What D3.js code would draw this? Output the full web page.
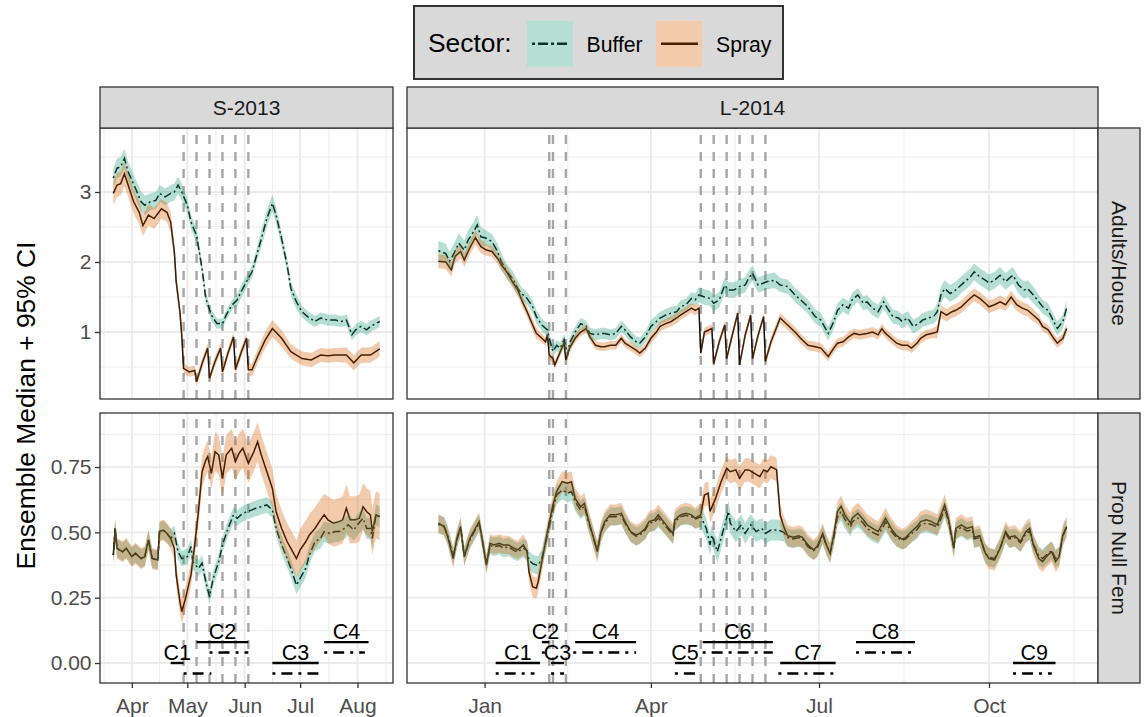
<!DOCTYPE html>
<html>
<head>
<meta charset="utf-8">
<script src="https://cdn.jsdelivr.net/npm/d3@7"></script>
<style>
  body { margin: 0; background: #fff; }
  svg text { font-family: "Liberation Sans", Arial, Helvetica, sans-serif; }
</style>
</head>
<body>
<svg id="chart" width="1145" height="717"></svg>
<script>
// ---- data: days counted from Jan 1 of the season year (negative = previous Dec) ----

// S-2013, Adults/House
const s13AdultsBuffer = [[80,3.20],[82,3.34],[84,3.36],[86,3.48],[88,3.29],[92,3.05],[95,2.86],[97,2.81],[100,2.86],[103,2.88],[105,2.98],[108,2.93],[111,2.98],[113,3.00],[115,3.10],[117,3.00],[120,2.81],[122,2.57],[125,2.38],[128,1.90],[130,1.48],[133,1.24],[136,1.12],[139,1.12],[141,1.24],[144,1.38],[147,1.46],[149,1.57],[152,1.72],[155,1.86],[157,2.05],[160,2.33],[163,2.62],[166,2.84],[168,2.67],[171,2.33],[174,1.95],[176,1.62],[179,1.43],[182,1.29],[185,1.22],[189,1.15],[192,1.20],[196,1.17],[200,1.17],[203,1.15],[206,1.17],[209,0.96],[211,1.03],[214,1.08],[217,1.03],[219,1.08],[224,1.15]];
const s13AdultsSpray = [[80,2.98],[82,3.10],[84,3.12],[86,3.26],[88,3.10],[91,2.86],[94,2.71],[96,2.52],[99,2.67],[102,2.62],[104,2.69],[106,2.76],[109,2.71],[111,2.57],[113,2.14],[114,1.72],[116,1.29],[117,0.95],[118,0.48],[121,0.43],[124,0.45],[125,0.29],[128,0.55],[131,0.77],[132,0.34],[135,0.58],[138,0.77],[139,0.43],[142,0.70],[145,0.93],[146,0.46],[149,0.70],[152,0.91],[153,0.46],[155,0.46],[158,0.65],[162,0.88],[166,1.05],[171,0.91],[176,0.72],[182,0.62],[187,0.60],[192,0.67],[196,0.66],[200,0.67],[206,0.67],[210,0.56],[214,0.67],[219,0.67],[224,0.76]];
// CI half-width by period: [from day, half-width]
const s13AdultsBufferCI = [[80,0.14],[100,0.12],[118,0.10],[128,0.08],[135,0.07],[145,0.09],[158,0.12],[170,0.10],[180,0.08]];
const s13AdultsSprayCI = [[80,0.17],[96,0.15],[106,0.14],[113,0.11],[118,0.07],[155,0.10],[162,0.12],[176,0.10],[206,0.11]];

// S-2013, Prop Null Fem
const s13NullBuffer = [[80,0.413],[81,0.515],[82,0.439],[85,0.426],[87,0.439],[90,0.407],[92,0.42],[95,0.40],[97,0.407],[99,0.471],[101,0.40],[104,0.394],[105,0.503],[107,0.509],[109,0.496],[111,0.477],[113,0.496],[115,0.426],[117,0.40],[120,0.407],[122,0.446],[123,0.388],[126,0.362],[128,0.382],[130,0.311],[132,0.254],[134,0.324],[137,0.388],[139,0.452],[142,0.515],[145,0.567],[147,0.554],[149,0.567],[152,0.579],[155,0.586],[157,0.592],[160,0.598],[163,0.605],[166,0.586],[168,0.515],[171,0.452],[174,0.40],[176,0.362],[179,0.298],[181,0.324],[184,0.362],[186,0.413],[189,0.464],[192,0.477],[194,0.503],[197,0.496],[200,0.503],[202,0.503],[205,0.515],[207,0.529],[210,0.509],[212,0.529],[215,0.554],[217,0.515],[219,0.515],[220,0.477],[222,0.567],[224,0.56]];
const s13NullSpray = [[80,0.413],[81,0.515],[82,0.439],[85,0.426],[87,0.439],[90,0.407],[92,0.42],[95,0.40],[97,0.407],[99,0.471],[101,0.40],[104,0.394],[105,0.503],[107,0.509],[109,0.496],[111,0.477],[113,0.439],[114,0.337],[116,0.235],[117,0.197],[119,0.247],[122,0.337],[124,0.452],[126,0.579],[128,0.732],[130,0.777],[131,0.79],[133,0.726],[135,0.809],[137,0.796],[139,0.707],[141,0.796],[144,0.822],[146,0.771],[148,0.803],[150,0.822],[153,0.764],[156,0.809],[158,0.847],[160,0.796],[163,0.732],[166,0.668],[168,0.579],[171,0.515],[174,0.464],[176,0.439],[179,0.40],[181,0.433],[184,0.464],[186,0.49],[189,0.515],[192,0.548],[194,0.567],[196,0.548],[199,0.535],[202,0.541],[204,0.548],[206,0.592],[208,0.548],[211,0.548],[213,0.554],[215,0.598],[217,0.579],[219,0.567],[220,0.503],[222,0.567],[224,0.56]];
const s13NullBufferCI = [[80,0.035],[112,0.03],[170,0.035],[190,0.04]];
const s13NullSprayCI = [[80,0.04],[112,0.045],[125,0.06],[135,0.075],[168,0.07],[180,0.08],[195,0.09]];

// L-2014, Adults/House
const l14AdultsBuffer = [[-25,2.16],[-21,2.12],[-19,2.01],[-17,2.10],[-14,2.27],[-11,2.17],[-9,2.31],[-6,2.43],[-4,2.53],[-2,2.36],[1,2.34],[4,2.29],[7,2.15],[9,2.01],[12,1.86],[15,1.77],[18,1.62],[20,1.55],[23,1.48],[26,1.36],[28,1.22],[31,1.10],[34,1.03],[35,0.91],[37,0.72],[39,0.81],[41,0.77],[43,0.89],[45,0.67],[46,0.84],[49,1.00],[52,1.12],[55,1.08],[57,0.98],[60,0.96],[63,0.98],[65,0.98],[68,0.96],[71,0.98],[74,1.08],[76,1.03],[79,0.93],[82,0.86],[84,0.84],[87,0.93],[90,1.08],[93,1.15],[95,1.20],[98,1.24],[101,1.27],[104,1.29],[106,1.36],[109,1.39],[112,1.48],[114,1.46],[116,1.53],[119,1.50],[122,1.48],[124,1.41],[127,1.46],[130,1.67],[132,1.60],[135,1.60],[138,1.65],[141,1.67],[143,1.77],[145,1.84],[148,1.67],[151,1.70],[153,1.72],[157,1.74],[160,1.67],[164,1.65],[168,1.53],[171,1.46],[175,1.36],[179,1.22],[182,1.17],[186,0.98],[189,1.15],[191,1.31],[194,1.39],[197,1.34],[199,1.46],[202,1.53],[205,1.41],[207,1.43],[210,1.34],[213,1.29],[216,1.43],[218,1.34],[221,1.22],[224,1.20],[226,1.15],[229,1.20],[232,1.08],[235,1.12],[237,1.17],[240,1.20],[243,1.22],[245,1.29],[247,1.53],[249,1.62],[252,1.55],[255,1.60],[257,1.65],[260,1.72],[263,1.79],[265,1.86],[268,1.79],[271,1.74],[273,1.70],[276,1.74],[279,1.81],[282,1.72],[284,1.77],[286,1.81],[289,1.67],[292,1.60],[294,1.62],[297,1.53],[300,1.43],[302,1.36],[305,1.31],[308,1.15],[310,1.05],[313,1.15],[315,1.34]];
const l14AdultsSpray = [[-25,2.01],[-21,2.00],[-18,1.89],[-16,2.08],[-13,2.15],[-11,2.03],[-8,2.20],[-5,2.35],[-2,2.22],[1,2.17],[4,2.15],[7,2.05],[9,1.96],[12,1.86],[15,1.72],[18,1.60],[20,1.46],[23,1.29],[26,1.10],[28,0.98],[31,0.91],[33,0.86],[34,0.96],[35,0.67],[37,0.62],[38,0.53],[41,0.72],[43,0.84],[44,0.60],[46,0.77],[49,0.91],[52,1.00],[55,1.05],[57,0.93],[60,0.81],[63,0.79],[65,0.79],[68,0.81],[71,0.81],[74,0.91],[76,0.84],[79,0.79],[82,0.74],[84,0.70],[87,0.77],[90,0.91],[93,1.00],[95,1.08],[98,1.12],[101,1.15],[104,1.20],[106,1.24],[109,1.29],[112,1.34],[114,1.31],[116,1.34],[117,0.70],[119,1.00],[123,1.05],[124,0.55],[127,0.86],[130,1.10],[131,0.62],[134,0.95],[137,1.27],[138,0.53],[141,0.95],[144,1.24],[145,0.62],[148,0.95],[151,1.22],[152,0.58],[155,0.86],[160,1.20],[164,1.10],[168,1.00],[171,0.91],[175,0.81],[179,0.79],[182,0.77],[186,0.65],[189,0.77],[191,0.84],[194,0.86],[197,0.93],[200,0.98],[203,0.96],[207,0.98],[210,1.00],[213,0.96],[215,1.05],[217,0.98],[220,0.91],[223,0.84],[226,0.81],[229,0.81],[231,0.77],[234,0.84],[236,0.91],[239,0.96],[242,0.98],[245,1.00],[247,1.29],[250,1.24],[253,1.29],[255,1.31],[258,1.36],[262,1.46],[265,1.53],[268,1.48],[271,1.41],[273,1.36],[276,1.39],[279,1.43],[282,1.39],[285,1.50],[288,1.39],[291,1.34],[294,1.31],[297,1.24],[300,1.17],[302,1.08],[305,1.03],[308,0.91],[310,0.84],[313,0.91],[315,1.05]];
const l14AdultsBufferCI = [[-25,0.14],[0,0.11],[20,0.09],[35,0.08],[90,0.09],[115,0.11],[160,0.10],[245,0.12],[300,0.10]];
const l14AdultsSprayCI = [[-25,0.10],[0,0.08],[30,0.06],[90,0.07],[117,0.06],[155,0.07],[245,0.09],[300,0.07]];

// L-2014, Prop Null Fem
const l14NullBuffer = [[-25,0.53],[-22,0.525],[-20,0.49],[-17,0.41],[-15,0.47],[-13,0.52],[-11,0.41],[-8,0.47],[-5,0.51],[-3,0.535],[-2,0.50],[1,0.38],[3,0.45],[5,0.445],[8,0.45],[10,0.44],[13,0.445],[16,0.43],[18,0.425],[21,0.44],[23,0.43],[24,0.394],[26,0.38],[28,0.375],[29,0.375],[31,0.40],[34,0.49],[37,0.59],[39,0.643],[42,0.662],[45,0.65],[47,0.656],[49,0.618],[52,0.585],[54,0.60],[56,0.545],[58,0.50],[61,0.43],[63,0.50],[65,0.535],[68,0.56],[71,0.56],[74,0.565],[76,0.535],[79,0.50],[82,0.485],[84,0.49],[87,0.51],[89,0.535],[92,0.54],[94,0.555],[96,0.54],[99,0.515],[102,0.49],[103,0.54],[106,0.56],[109,0.565],[112,0.56],[114,0.55],[117,0.56],[120,0.515],[122,0.452],[123,0.49],[126,0.426],[129,0.503],[132,0.58],[133,0.535],[136,0.503],[139,0.529],[141,0.496],[144,0.529],[147,0.503],[150,0.515],[152,0.496],[155,0.509],[159,0.509],[162,0.50],[164,0.48],[167,0.475],[170,0.48],[172,0.475],[175,0.445],[178,0.43],[180,0.44],[183,0.49],[185,0.45],[187,0.42],[189,0.48],[191,0.56],[193,0.58],[195,0.55],[198,0.52],[199,0.54],[202,0.555],[205,0.535],[207,0.515],[210,0.50],[213,0.49],[216,0.525],[217,0.54],[220,0.505],[223,0.48],[226,0.47],[228,0.475],[231,0.495],[234,0.51],[236,0.53],[239,0.535],[242,0.53],[245,0.52],[246,0.535],[249,0.59],[251,0.545],[254,0.44],[255,0.505],[258,0.52],[261,0.505],[264,0.51],[265,0.475],[268,0.48],[271,0.42],[273,0.405],[276,0.40],[279,0.44],[282,0.495],[284,0.475],[287,0.48],[290,0.46],[293,0.495],[295,0.505],[297,0.455],[300,0.41],[302,0.40],[305,0.42],[307,0.43],[309,0.40],[311,0.41],[312,0.45],[313,0.485],[315,0.52]];
const l14NullSpray = [[-25,0.535],[-22,0.522],[-20,0.484],[-17,0.40],[-15,0.477],[-13,0.522],[-11,0.407],[-8,0.477],[-5,0.515],[-3,0.541],[-2,0.503],[1,0.375],[3,0.458],[5,0.452],[8,0.458],[10,0.452],[13,0.452],[16,0.439],[18,0.433],[21,0.452],[23,0.426],[24,0.35],[26,0.292],[28,0.286],[29,0.311],[31,0.388],[34,0.503],[37,0.605],[39,0.656],[42,0.694],[45,0.688],[47,0.694],[49,0.63],[52,0.598],[54,0.611],[56,0.554],[58,0.503],[61,0.426],[63,0.503],[65,0.541],[68,0.567],[71,0.567],[74,0.573],[76,0.541],[79,0.503],[82,0.49],[84,0.496],[87,0.515],[89,0.541],[92,0.548],[94,0.567],[96,0.548],[99,0.522],[102,0.496],[103,0.548],[106,0.567],[109,0.573],[112,0.567],[114,0.554],[117,0.567],[119,0.643],[121,0.65],[122,0.58],[125,0.63],[128,0.694],[131,0.745],[133,0.732],[136,0.739],[138,0.707],[141,0.739],[143,0.739],[146,0.726],[149,0.713],[151,0.739],[153,0.732],[155,0.751],[158,0.74],[160,0.567],[162,0.52],[164,0.487],[167,0.481],[170,0.487],[172,0.481],[175,0.452],[178,0.433],[180,0.446],[183,0.496],[185,0.452],[187,0.42],[189,0.49],[191,0.58],[193,0.60],[195,0.567],[198,0.535],[199,0.554],[202,0.573],[205,0.548],[207,0.529],[210,0.515],[213,0.503],[216,0.541],[217,0.554],[220,0.515],[223,0.487],[226,0.474],[228,0.481],[231,0.503],[234,0.522],[236,0.541],[239,0.548],[242,0.541],[245,0.529],[246,0.548],[249,0.605],[251,0.554],[254,0.439],[255,0.515],[258,0.529],[261,0.515],[264,0.522],[265,0.481],[268,0.487],[271,0.42],[273,0.40],[276,0.394],[279,0.439],[282,0.503],[284,0.481],[287,0.487],[290,0.465],[293,0.503],[295,0.515],[297,0.452],[300,0.40],[302,0.388],[305,0.414],[307,0.426],[309,0.388],[311,0.407],[312,0.452],[313,0.49],[315,0.522]];
const l14NullBufferCI = [[-25,0.035],[117,0.04],[160,0.035]];
const l14NullSprayCI = [[-25,0.035],[20,0.04],[117,0.045],[160,0.04]];

// spray event dates (vertical dashed lines)
const s13Events = [118, 125, 132, 139, 146, 153];
const l14Events = [35, 37, 44, 117, 124, 131, 138, 145, 152];

// control periods
const s13CtrlLabels = ["C1", "C2", "C3", "C4"];
const s13CtrlSpray = [[111,118],[125,153],[166,191],[194,218]];
const s13CtrlBuffer = [[118,133],[132,153],[166,191],[194,216]];
const s13CtrlRow = [0, 1, 0, 1];
const l14CtrlLabels = ["C1", "C2", "C3", "C4", "C5", "C6", "C7", "C8", "C9"];
const l14CtrlSpray = [[6,30],[31,35],[36,43],[49,82],[103,114],[118,156],[160,190],[201,233],[286,309]];
const l14CtrlBuffer = [[6,27],[31,34],[36,43],[48,82],[103,114],[118,156],[159,190],[201,233],[286,307]];
const l14CtrlRow = [0, 1, 0, 1, 0, 1, 0, 1, 0];
const ctrlSprayLevel = [0, 0.08];
const ctrlBufferLevel = [-0.04, 0.04];

const seasonLabels = ["S-2013", "L-2014"];
const rowLabels = ["Adults/House", "Prop Null Fem"];

// ---- layout ----
const FONT = '"Liberation Sans", Arial, Helvetica, sans-serif';
const cols = [{x0: 100, x1: 393}, {x0: 407, x1: 1098}];
const rowsPx = [{y0: 128, y1: 399}, {y0: 413, y1: 683}];
const stripTop = {y0: 87, y1: 128};
const stripRight = {x0: 1098, x1: 1140};
const teal = "#1b9e77", orange = "#d95f02", ribbonAlpha = 0.33;
const gridCol = "#ebebeb", darkCol = "#333333";
const dashBuffer = "2,3,8,3";

const svg = d3.select("#chart");
const dayMs = 864e5;
function toDate(year, d) { return new Date(Date.UTC(year, 0, 1) + d * dayMs); }
function ciAt(steps, d) {
  let w = steps[0][1];
  steps.forEach(s => { if (d >= s[0]) w = s[1]; });
  return w;
}

const seasons = [
  {label: seasonLabels[0], year: 2013, domain: [72.8, 231.2], every: d3.utcMonth.every(1),
   events: s13Events, labels: s13CtrlLabels, spray: s13CtrlSpray, buffer: s13CtrlBuffer, rowIdx: s13CtrlRow},
  {label: seasonLabels[1], year: 2014, domain: [-42, 332], every: d3.utcMonth.every(3),
   events: l14Events, labels: l14CtrlLabels, spray: l14CtrlSpray, buffer: l14CtrlBuffer, rowIdx: l14CtrlRow}
];
const rows = [
  {label: rowLabels[0], domain: [0.043, 3.914], ticks: [1, 2, 3], minor: [0.5, 1.5, 2.5, 3.5], fmt: d3.format("d")},
  {label: rowLabels[1], domain: [-0.0765, 0.9568], ticks: [0, 0.25, 0.5, 0.75], minor: [0.125, 0.375, 0.625, 0.875], fmt: d3.format(".2f")}
];
const panelData = [
  [{buf: s13AdultsBuffer, spr: s13AdultsSpray, bufCI: s13AdultsBufferCI, sprCI: s13AdultsSprayCI},
   {buf: l14AdultsBuffer, spr: l14AdultsSpray, bufCI: l14AdultsBufferCI, sprCI: l14AdultsSprayCI}],
  [{buf: s13NullBuffer, spr: s13NullSpray, bufCI: s13NullBufferCI, sprCI: s13NullSprayCI},
   {buf: l14NullBuffer, spr: l14NullSpray, bufCI: l14NullBufferCI, sprCI: l14NullSprayCI}]
];

function styleAxis(ax) {
  ax.select(".domain").remove();
  ax.selectAll(".tick line").attr("stroke", darkCol).attr("stroke-width", 1.3);
  ax.selectAll(".tick text").attr("fill", "#4d4d4d")
    .style("font-size", "21px").style("font-family", FONT);
}

rows.forEach((row, r) => {
  seasons.forEach((season, c) => {
    const px = cols[c], py = rowsPx[r];
    const d = panelData[r][c];
    const x = d3.scaleUtc()
      .domain(season.domain.map(v => toDate(season.year, v)))
      .range([px.x0, px.x1]);
    const y = d3.scaleLinear().domain(row.domain).range([py.y1, py.y0]);
    const xd = v => x(toDate(season.year, v));

    const clipId = `clip-${r}-${c}`;
    svg.append("clipPath").attr("id", clipId)
      .append("rect").attr("x", px.x0).attr("y", py.y0)
      .attr("width", px.x1 - px.x0).attr("height", py.y1 - py.y0);

    const g = svg.append("g");
    g.append("rect").attr("x", px.x0).attr("y", py.y0)
      .attr("width", px.x1 - px.x0).attr("height", py.y1 - py.y0).attr("fill", "#fff");

    const inner = g.append("g").attr("clip-path", `url(#${clipId})`);

    // grid: minor then major
    const majorX = x.ticks(season.every);
    const minorX = [];
    for (let i = 0; i < majorX.length - 1; i++) minorX.push(new Date((+majorX[i] + +majorX[i + 1]) / 2));
    if (majorX.length > 1) {
      minorX.unshift(new Date(+majorX[0] - (majorX[1] - majorX[0]) / 2));
      const n = majorX.length;
      minorX.push(new Date(+majorX[n - 1] + (majorX[n - 1] - majorX[n - 2]) / 2));
    }
    inner.selectAll(".vminor").data(minorX).join("line")
      .attr("x1", v => x(v)).attr("x2", v => x(v)).attr("y1", py.y0).attr("y2", py.y1)
      .attr("stroke", gridCol).attr("stroke-width", 0.9);
    inner.selectAll(".hminor").data(row.minor).join("line")
      .attr("x1", px.x0).attr("x2", px.x1).attr("y1", v => y(v)).attr("y2", v => y(v))
      .attr("stroke", gridCol).attr("stroke-width", 0.9);
    inner.selectAll(".vmajor").data(majorX).join("line")
      .attr("x1", v => x(v)).attr("x2", v => x(v)).attr("y1", py.y0).attr("y2", py.y1)
      .attr("stroke", gridCol).attr("stroke-width", 1.8);
    inner.selectAll(".hmajor").data(row.ticks).join("line")
      .attr("x1", px.x0).attr("x2", px.x1).attr("y1", v => y(v)).attr("y2", v => y(v))
      .attr("stroke", gridCol).attr("stroke-width", 1.8);

    // spray events
    inner.selectAll(".event").data(season.events).join("line")
      .attr("x1", xd).attr("x2", xd).attr("y1", py.y1).attr("y2", py.y0)
      .attr("stroke", "#a6a6a6").attr("stroke-width", 2.4).attr("stroke-dasharray", "9,8");

    // median lines (drawn under the ribbons)
    const line = d3.line().x(p => xd(p[0])).y(p => y(p[1]));
    inner.append("path").datum(d.buf).attr("d", line)
      .attr("fill", "none").attr("stroke", "#000").attr("stroke-width", 1.5)
      .attr("stroke-dasharray", dashBuffer);
    inner.append("path").datum(d.spr).attr("d", line)
      .attr("fill", "none").attr("stroke", "#000").attr("stroke-width", 1.5);

    // 95% CI ribbons
    const area = ci => d3.area().x(p => xd(p[0]))
      .y0(p => y(p[1] - ciAt(ci, p[0]))).y1(p => y(p[1] + ciAt(ci, p[0])));
    inner.append("path").datum(d.buf).attr("d", area(d.bufCI))
      .attr("fill", teal).attr("fill-opacity", ribbonAlpha);
    inner.append("path").datum(d.spr).attr("d", area(d.sprCI))
      .attr("fill", orange).attr("fill-opacity", ribbonAlpha);

    // control period annotations (bottom row)
    if (r === 1) {
      season.labels.forEach((lab, i) => {
        const k = season.rowIdx[i];
        const s = season.spray[i], b = season.buffer[i];
        g.append("line").attr("x1", xd(s[0])).attr("x2", xd(s[1]))
          .attr("y1", y(ctrlSprayLevel[k])).attr("y2", y(ctrlSprayLevel[k]))
          .attr("stroke", "#000").attr("stroke-width", 2.4);
        g.append("line").attr("x1", xd(b[0])).attr("x2", xd(b[1]))
          .attr("y1", y(ctrlBufferLevel[k])).attr("y2", y(ctrlBufferLevel[k]))
          .attr("stroke", "#000").attr("stroke-width", 2.4).attr("stroke-dasharray", "3,6,11,6");
        g.append("text").attr("x", (xd(s[0]) + xd(s[1])) / 2).attr("y", y(ctrlSprayLevel[k]) - 3.5)
          .attr("text-anchor", "middle").style("font-size", "21.5px").attr("fill", "#000")
          .text(lab);
      });
    }

    // panel border
    g.append("rect").attr("x", px.x0).attr("y", py.y0)
      .attr("width", px.x1 - px.x0).attr("height", py.y1 - py.y0)
      .attr("fill", "none").attr("stroke", darkCol).attr("stroke-width", 1.3);

    // axes
    if (c === 0) {
      const ax = svg.append("g").attr("transform", `translate(${px.x0},0)`)
        .call(d3.axisLeft(y).tickValues(row.ticks).tickFormat(row.fmt).tickSize(5).tickPadding(3.5));
      styleAxis(ax);
    }
    if (r === 1) {
      const ax = svg.append("g").attr("transform", `translate(0,${py.y1})`)
        .call(d3.axisBottom(x).ticks(season.every).tickFormat(d3.utcFormat("%b")).tickSize(5).tickPadding(10));
      styleAxis(ax);
    }
  });
});

// top strips
seasons.forEach((season, c) => {
  const px = cols[c];
  svg.append("rect").attr("x", px.x0).attr("y", stripTop.y0)
    .attr("width", px.x1 - px.x0).attr("height", stripTop.y1 - stripTop.y0)
    .attr("fill", "#d9d9d9").attr("stroke", darkCol).attr("stroke-width", 1.3);
  svg.append("text").attr("x", (px.x0 + px.x1) / 2).attr("y", (stripTop.y0 + stripTop.y1) / 2)
    .attr("dy", "0.35em").attr("text-anchor", "middle")
    .style("font-size", "21px").attr("fill", "#1a1a1a").text(season.label);
});

// right strips
rows.forEach((row, r) => {
  const py = rowsPx[r];
  svg.append("rect").attr("x", stripRight.x0).attr("y", py.y0)
    .attr("width", stripRight.x1 - stripRight.x0).attr("height", py.y1 - py.y0)
    .attr("fill", "#d9d9d9").attr("stroke", darkCol).attr("stroke-width", 1.3);
  const cx = (stripRight.x0 + stripRight.x1) / 2, cy = (py.y0 + py.y1) / 2;
  svg.append("text").attr("transform", `translate(${cx},${cy}) rotate(90)`)
    .attr("dy", "0.35em").attr("text-anchor", "middle")
    .style("font-size", "21px").attr("fill", "#1a1a1a").text(row.label);
});

// y axis title
svg.append("text")
  .attr("transform", `translate(26,${(rowsPx[0].y0 + rowsPx[1].y1) / 2}) rotate(-90)`)
  .attr("dy", "0.35em").attr("text-anchor", "middle")
  .style("font-size", "26.4px").attr("fill", "#000").text("Ensemble Median + 95% CI");

// legend
const leg = svg.append("g");
leg.append("rect").attr("x", 414).attr("y", 6).attr("width", 369).attr("height", 73)
  .attr("fill", "#d9d9d9").attr("stroke", darkCol).attr("stroke-width", 2);
leg.append("text").attr("x", 428).attr("y", 51.7)
  .style("font-size", "26.4px").attr("fill", "#000").text("Sector:");
const keys = [
  {label: "Buffer", fill: teal, dash: "3,3,10,3", kx: 527, tx: 586.5},
  {label: "Spray", fill: orange, dash: null, kx: 656, tx: 716}
];
keys.forEach(k => {
  leg.append("rect").attr("x", k.kx).attr("y", 20.7).attr("width", 46).attr("height", 46).attr("fill", "#fff");
  const ln = leg.append("line").attr("x1", k.kx + 5).attr("x2", k.kx + 42)
    .attr("y1", 43.7).attr("y2", 43.7).attr("stroke", "#000").attr("stroke-width", 2.4);
  if (k.dash) ln.attr("stroke-dasharray", k.dash);
  leg.append("rect").attr("x", k.kx).attr("y", 20.7).attr("width", 46).attr("height", 46)
    .attr("fill", k.fill).attr("fill-opacity", ribbonAlpha);
  leg.append("text").attr("x", k.tx).attr("y", 51.7)
    .style("font-size", "21.2px").attr("fill", "#000").text(k.label);
});
</script>
</body>
</html>
